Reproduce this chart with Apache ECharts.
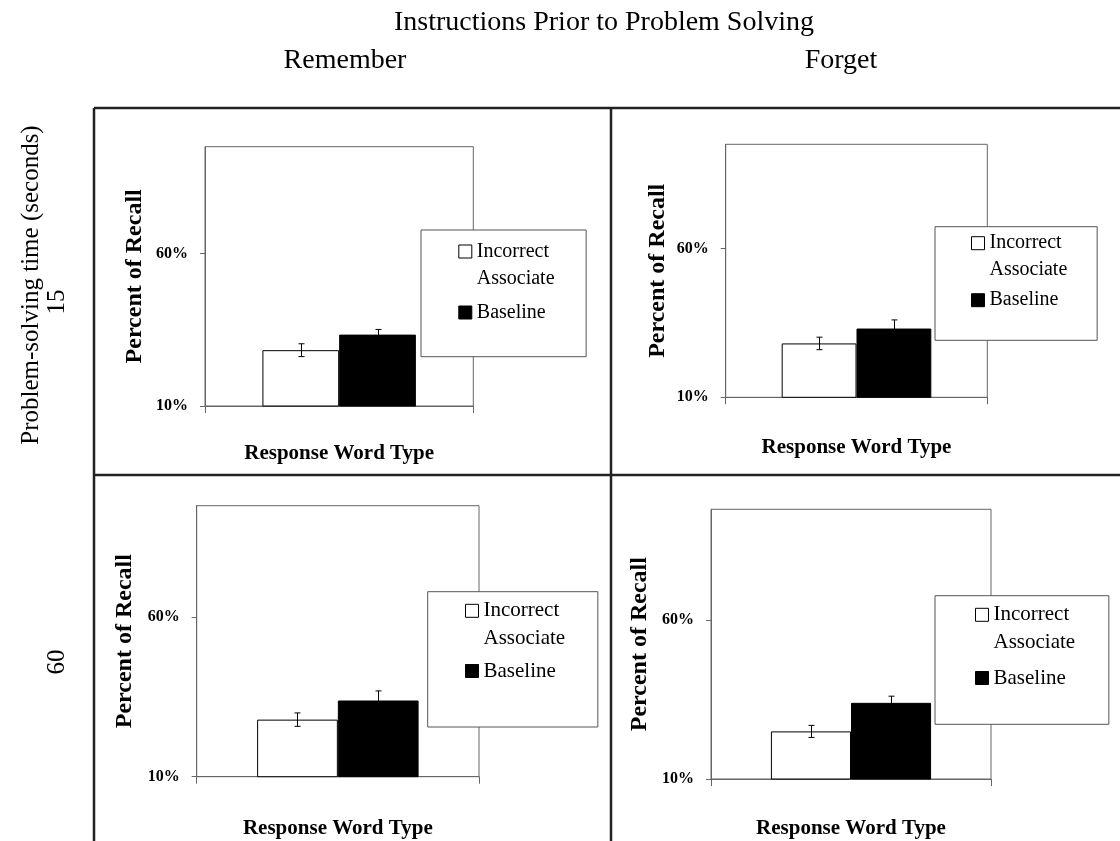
<!DOCTYPE html>
<html>
<head>
<meta charset="utf-8">
<script src="https://cdn.jsdelivr.net/npm/echarts@6/dist/echarts.min.js"></script>
<style>
html,body{margin:0;padding:0;background:#fff;}
#chart{width:1120px;height:841px;}
</style>
</head>
<body>
<div id="chart"></div>
<script>
// ---------------- data ----------------
const panelKeys = ['Remember-15', 'Forget-15', 'Remember-60', 'Forget-60'];
const seriesNames = ['Incorrect\nAssociate', 'Baseline'];
const categories = ['Response Word Type'];
const incorrectAssociate = [28.3, 28.1, 27.9, 25.0];
const incorrectAssociateErr = [2.1, 2.1, 2.1, 1.9];
const baseline = [33.4, 33.1, 33.9, 34.0];
const baselineErr = [1.7, 2.9, 3.0, 2.1];
const yTickValues = [10, 60];
const yMin = 10;
const yMax = 95;
const mainTitle = 'Instructions Prior to Problem Solving';
const columnTitles = ['Remember', 'Forget'];
const rowAxisTitle = 'Problem-solving time (seconds)';
const rowTitles = ['15', '60'];
const yAxisName = 'Percent of Recall';
const xAxisName = 'Response Word Type';

// ---------------- layout / style ----------------
const SERIF = '"Liberation Serif", "Times New Roman", serif';
const BAR_FRAC = 0.286;
const grids = [
  {left: 205, top: 146.7, width: 268.3, height: 259.3},
  {left: 725.7, top: 144.3, width: 261.6, height: 253},
  {left: 196.7, top: 505.7, width: 282.3, height: 271},
  {left: 711, top: 509.3, width: 280, height: 269.7}
];
const yNameGap = [58, 56, 60, 59];
const xNameGap = [37, 39.5, 41.5, 39];
// legend boxes: left, top, padding [t, r, b, l], itemGap, fontSize, lineHeight
const legends = [
  {left: 421, top: 230, padding: [8, 31.6, 23.7, 37.3], gap: 0, fs: 20, lh: 27},
  {left: 935, top: 226.7, padding: [3, 29.9, 19.6, 36], gap: -4, fs: 20, lh: 27},
  {left: 427.7, top: 591.7, padding: [4.6, 32.7, 35.5, 37.3], gap: -1.8, fs: 21, lh: 28},
  {left: 935, top: 595.7, padding: [4.6, 33.7, 25.8, 40], gap: 1.2, fs: 21, lh: 28}
];
const ICON_TOP = 'path://M0,0L13,0L13,13L0,13Z M0,40L0.01,40';
const ICON_MID = 'path://M0,0L0.01,0 M0,13.5L13,13.5L13,26.5L0,26.5Z M0,40L0.01,40';
const AXIS_COLOR = '#666';

const option = {
  animation: false,
  backgroundColor: '#fff',
  grid: [], xAxis: [], yAxis: [], series: [], legend: [],
  graphic: []
};

panelKeys.forEach((key, i) => {
  const g = grids[i];
  option.grid.push({
    left: g.left, top: g.top, width: g.width, height: g.height,
    show: true, borderColor: AXIS_COLOR, borderWidth: 1, backgroundColor: '#fff',
    containLabel: false, outerBoundsMode: 'none'
  });
  option.xAxis.push({
    type: 'category', gridIndex: i, data: categories,
    axisLine: {show: true, lineStyle: {color: AXIS_COLOR, width: 1}},
    axisTick: {show: true, length: 7, lineStyle: {color: AXIS_COLOR}},
    axisLabel: {show: false},
    splitLine: {show: false},
    name: xAxisName, nameLocation: 'middle', nameGap: xNameGap[i], nameMoveOverlap: false,
    nameTextStyle: {fontFamily: SERIF, fontWeight: 'bold', fontSize: 21, color: '#000'}
  });
  option.yAxis.push({
    type: 'value', gridIndex: i, min: yMin, max: yMax,
    axisLine: {show: true, lineStyle: {color: AXIS_COLOR, width: 1}},
    axisTick: {show: true, length: 5, customValues: yTickValues, lineStyle: {color: AXIS_COLOR}},
    axisLabel: {
      show: true, customValues: yTickValues, formatter: '{value}%', margin: 17,
      fontFamily: SERIF, fontWeight: 'bold', fontSize: 16, color: '#000'
    },
    splitLine: {show: false},
    name: yAxisName, nameLocation: 'middle', nameGap: yNameGap[i], nameMoveOverlap: false,
    nameTextStyle: {fontFamily: SERIF, fontWeight: 'bold', fontSize: 24, color: '#000'}
  });
  option.series.push({
    type: 'bar', name: seriesNames[0], xAxisIndex: i, yAxisIndex: i,
    data: [incorrectAssociate[i]], barWidth: (BAR_FRAC * 100) + '%', barGap: '0%',
    itemStyle: {color: '#fff', borderColor: '#000', borderWidth: 1}
  });
  option.series.push({
    type: 'bar', name: seriesNames[1], xAxisIndex: i, yAxisIndex: i,
    data: [baseline[i]], barWidth: (BAR_FRAC * 100) + '%', barGap: '0%',
    itemStyle: {color: '#000', borderColor: '#000', borderWidth: 1}
  });
  option.series.push({
    type: 'custom', name: 'error-' + key, xAxisIndex: i, yAxisIndex: i, z: 5,
    encode: {x: 0, y: 1},
    data: [
      [0, incorrectAssociate[i], incorrectAssociateErr[i], -1],
      [0, baseline[i], baselineErr[i], 1]
    ],
    renderItem: function (params, api) {
      const cat = api.value(0), v = api.value(1), e = api.value(2), side = api.value(3);
      const band = api.size([1, 0])[0];
      const c = api.coord([cat, v]);
      const x = Math.round(c[0] + side * band * BAR_FRAC / 2) + 0.5;
      const top = api.coord([cat, v + e])[1];
      const bot = api.coord([cat, v - e])[1];
      const cap = 3;
      const st = {stroke: '#000', lineWidth: 1};
      return {type: 'group', children: [
        {type: 'line', shape: {x1: x, y1: top, x2: x, y2: bot}, style: st},
        {type: 'line', shape: {x1: x - cap, y1: top, x2: x + cap, y2: top}, style: st},
        {type: 'line', shape: {x1: x - cap, y1: bot, x2: x + cap, y2: bot}, style: st}
      ]};
    }
  });
  const L = legends[i];
  option.legend.push({
    left: L.left, top: L.top, orient: 'vertical', padding: L.padding, itemGap: L.gap,
    itemWidth: 13, itemHeight: 40, selectedMode: false,
    borderColor: '#555', borderWidth: 1, backgroundColor: '#fff', z: 10,
    textStyle: {fontFamily: SERIF, fontSize: L.fs, lineHeight: L.lh, color: '#000'},
    itemStyle: {borderWidth: 1},
    data: [{name: seriesNames[0], icon: ICON_TOP}, {name: seriesNames[1], icon: ICON_MID}]
  });
});

// frame lines
const FRAME = {stroke: '#222', lineWidth: 2.5};
[
  [94, 108, 94, 841], [94, 108, 1120, 108], [611, 108, 611, 841], [94, 475, 1120, 475]
].forEach(s => option.graphic.push({
  type: 'line', shape: {x1: s[0], y1: s[1], x2: s[2], y2: s[3]}, style: FRAME, silent: true
}));

// header texts
const headerFont = (size) => ({fontFamily: SERIF, fontSize: size, fill: '#000'});
option.graphic.push({type: 'text', x: 604, y: 22.5,
  style: Object.assign({text: mainTitle, align: 'center', verticalAlign: 'middle'}, headerFont(28))});
option.graphic.push({type: 'text', x: 345, y: 60.5,
  style: Object.assign({text: columnTitles[0], align: 'center', verticalAlign: 'middle'}, headerFont(28))});
option.graphic.push({type: 'text', x: 841, y: 60.5,
  style: Object.assign({text: columnTitles[1], align: 'center', verticalAlign: 'middle'}, headerFont(28))});
option.graphic.push({type: 'text', x: 31, y: 285, rotation: Math.PI / 2,
  style: Object.assign({text: rowAxisTitle, align: 'center', verticalAlign: 'middle'}, headerFont(25))});
option.graphic.push({type: 'text', x: 57, y: 302, rotation: Math.PI / 2,
  style: Object.assign({text: rowTitles[0], align: 'center', verticalAlign: 'middle'}, headerFont(25))});
option.graphic.push({type: 'text', x: 57, y: 662, rotation: Math.PI / 2,
  style: Object.assign({text: rowTitles[1], align: 'center', verticalAlign: 'middle'}, headerFont(25))});

const chart = echarts.init(document.getElementById('chart'), null, {renderer: 'canvas'});
chart.setOption(option);
</script>
</body>
</html>
